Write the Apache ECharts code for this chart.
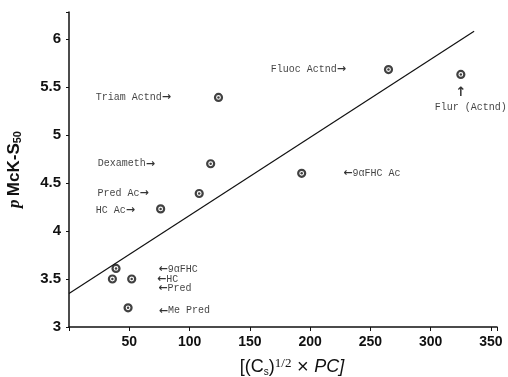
<!DOCTYPE html>
<html>
<head>
<meta charset="utf-8">
<script src="https://cdn.jsdelivr.net/npm/echarts@6/dist/echarts.min.js"></script>
<style>html,body{margin:0;padding:0;background:#fff}#c{width:508px;height:377px}</style>
</head>
<body>
<div id="c"></div>
<script>
// Data
const names = ['Triam Actnd','Dexameth','Pred Ac','HC Ac','Fluoc Actnd','Flur (Actnd)','9αFHC Ac','9αFHC','HC','Pred','Me Pred'];
const xVals = [124, 117.5, 108, 76, 265, 325, 193, 39, 36, 52, 49];
const yVals = [5.39, 4.70, 4.39, 4.23, 5.68, 5.63, 4.60, 3.61, 3.50, 3.50, 3.20];
const fitX = [0, 336];
const fitY = [3.35, 6.08];
const xTicks = [50, 100, 150, 200, 250, 300, 350];
const yTicks = [3, 3.5, 4, 4.5, 5, 5.5, 6];

// label placement (style)
const labelStyle = [
  {position:'left', distance:43, text: n => n + '{b|→}'},
  {position:'left', distance:51, text: n => n + '{b|→}'},
  {position:'left', distance:46, text: n => n + '{b|→}'},
  {position:'left', distance:21, text: n => n + '{b|→}', offset:[0,1]},
  {position:'left', distance:38, text: n => n + '{b|→}'},
  {position:'bottom', distance:6, text: n => '{u|↑}\n' + n, offset:[10,0]},
  {position:'right', distance:37, text: n => '{b|←}' + n},
  {position:'right', distance:38, text: n => '{b|←}' + n, offset:[0,1]},
  {position:'right', distance:40, text: n => '{b|←}' + n},
  {position:'right', distance:22, text: n => '{b|←}' + n, offset:[0,9]},
  {position:'right', distance:26, text: n => '{b|←}' + n, offset:[0,3]}
];

const pts = xVals.map((x, i) => {
  const s = labelStyle[i];
  return {
    value: [x, yVals[i]],
    label: {
      show: true,
      position: s.position,
      distance: s.distance,
      offset: s.offset || [0,0],
      formatter: s.text(names[i]),
      fontFamily: 'Liberation Mono',
      fontSize: 10,
      color: '#111',
      lineHeight: 13,
      rich: {
        b: {fontFamily:'DejaVu Sans', fontSize:11, fontWeight:'bold', color:'#000'},
        u: {fontFamily:'DejaVu Sans', fontSize:13, fontWeight:'bold', color:'#000', padding:[0,20,0,0], lineHeight:16}
      }
    }
  };
});

const chart = echarts.init(document.getElementById('c'), null, {renderer:'canvas'});
chart.setOption({
  animation: false,
  backgroundColor: '#fff',
  grid: {left: 69, right: 11, top: 12, bottom: 50, containLabel: false, outerBoundsMode: 'none'},
  xAxis: {
    type: 'value', min: 0, max: 355, interval: 50,
    axisLine: {show: true, lineStyle: {color:'#111', width:1.5}},
    axisTick: {show: true, length: 4, lineStyle:{color:'#111'}},
    splitLine: {show: false},
    axisLabel: {
      fontFamily: 'Liberation Sans', fontWeight: 'bold', fontSize: 14, color: '#111', margin: 8,
      formatter: v => xTicks.indexOf(v) >= 0 ? String(v) : ''
    },
    name: '{n|[(C}{s|s}{n|)}{p|1/2}{x| × }{i|PC]}',
    nameLocation: 'middle', nameGap: 30,
    nameTextStyle: {
      padding: [0,0,0,18],
      rich: {
        n: {fontFamily:'Liberation Sans', fontSize:18, color:'#111'},
        x: {fontFamily:'Liberation Sans', fontSize:20, color:'#111'},
        s: {fontFamily:'Liberation Sans', fontSize:10, color:'#111', verticalAlign:'bottom', padding:[7,0,0,0]},
        p: {fontFamily:'Liberation Serif', fontSize:13, color:'#111', verticalAlign:'top', padding:[0,0,7,0]},
        i: {fontFamily:'Liberation Sans', fontSize:18, fontStyle:'italic', color:'#111'}
      }
    }
  },
  yAxis: {
    type: 'value', min: 3, max: 6.28, interval: 0.5,
    axisLine: {show: true, lineStyle: {color:'#111', width:1.5}},
    axisTick: {show: true, length: 3, lineStyle:{color:'#111'}},
    splitLine: {show: false},
    axisLabel: {
      fontFamily: 'Liberation Sans', fontWeight: 'bold', fontSize: 15, color: '#111', margin: 8,
      formatter: v => yTicks.indexOf(v) >= 0 ? String(v) : ''
    },
    name: '{i|p} {n|McK-S}{s|50}',
    nameLocation: 'middle', nameGap: 46, nameRotate: 90,
    nameTextStyle: {
      rich: {
        i: {fontFamily:'Liberation Serif', fontStyle:'italic', fontWeight:'bold', fontSize:17, color:'#111'},
        n: {fontFamily:'Liberation Sans', fontWeight:'bold', fontSize:17, color:'#111'},
        s: {fontFamily:'Liberation Sans', fontWeight:'bold', fontSize:11, color:'#111', verticalAlign:'bottom', padding:[6,0,0,0]}
      }
    }
  },
  series: [
    {
      type: 'line',
      data: fitX.map((x, i) => [x, fitY[i]]),
      showSymbol: false, symbol: 'none',
      lineStyle: {color:'#111', width: 1.2},
      silent: true, z: 1
    },
    {
      type: 'scatter',
      data: pts,
      symbol: 'circle', symbolSize: 7,
      itemStyle: {color:'#fff', borderColor:'#111', borderWidth: 2.2},
      z: 3
    },
    {
      type: 'scatter',
      data: xVals.map((x, i) => [x, yVals[i]]),
      symbol: 'circle', symbolSize: 2.5,
      itemStyle: {color:'#111'},
      silent: true, z: 4
    }
  ]
});
</script>
</body>
</html>
